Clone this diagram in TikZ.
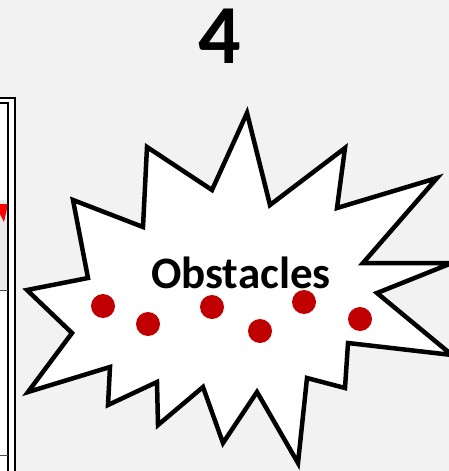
\documentclass[tikz,border=0pt]{standalone}
\usepackage{fontspec}
\setmainfont{Carlito}
\definecolor{bggray}{RGB}{242,242,242}
\definecolor{cellgray}{RGB}{234,234,234}
\definecolor{dotred}{RGB}{192,0,0}
\begin{document}
\begin{tikzpicture}[x=1pt,y=-1pt]
		\useasboundingbox (0,0) rectangle (449,471);
		\clip (0,0) rectangle (449,471);
		\fill[bggray] (0,0) rectangle (449,471);
		% table edge on the left
		\fill[white] (0,98) rectangle (15,471);
		\fill[cellgray] (0,200) rectangle (8,290);
		\fill[red] (0,204) -- (8,204) -- (4,222) -- (0,214) -- cycle;
		\draw[line width=1.5pt] (0,98) -- (15,98) -- (15,471);
		\draw[line width=1.5pt] (0,103) -- (8,103) -- (8,471);
		\draw[line width=1pt, color=black!70] (0,290) -- (8,290);
		\draw[line width=1pt, color=black!70] (0,455) -- (8,455);
		% explosion
		\draw[line width=4.5pt, line join=miter, fill=white]
			(247,113) -- (270,205) -- (345,148) -- (337,208) -- (437,178)
			-- (363,263) -- (452,263) -- (377,293) -- (452,355) -- (348,343)
			-- (345,388) -- (307,378) -- (298,463) -- (257,392) -- (223,443)
			-- (203,387) -- (158,425) -- (157,382) -- (108,405) -- (110,367)
			-- (28,392) -- (72,333) -- (27,290) -- (88,278) -- (73,200)
			-- (143,227) -- (147,147) -- (212,190) -- cycle;
		\node (obstacles) at (241,273) {\fontsize{45}{45}\selectfont\bfseries Obstacles};
		\fill[dotred] (103,306) circle(12);
		\fill[dotred] (148,324) circle(12);
		\fill[dotred] (212,307) circle(12);
		\fill[dotred] (260,331) circle(12);
		\fill[dotred] (304,302) circle(12);
		\fill[dotred] (360,319) circle(12);
		\node[inner sep=0pt, anchor=base] (four) at (220,63) {\fontsize{84}{84}\selectfont\bfseries 4};
	\end{tikzpicture}
\end{document}
